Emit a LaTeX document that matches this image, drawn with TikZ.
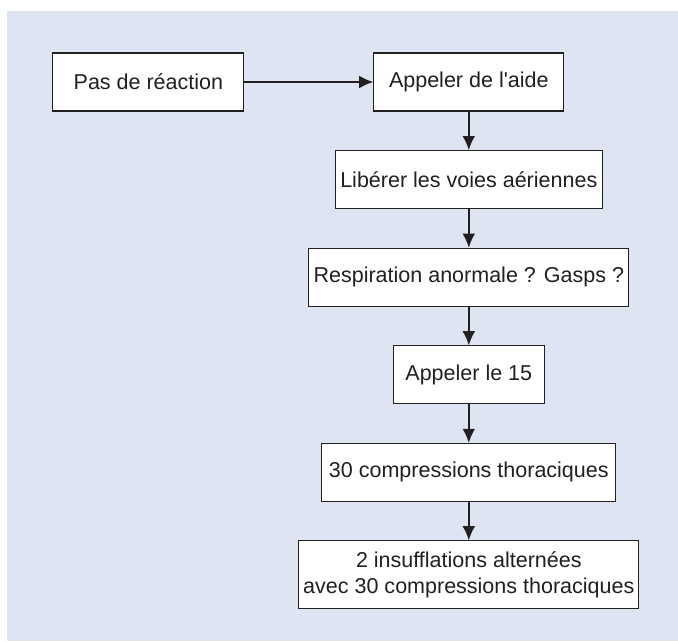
\documentclass[tikz,border=0pt]{standalone}
\usepackage{fontspec}
\setmainfont{Liberation Sans}
\usetikzlibrary{arrows.meta}
\definecolor{fond}{RGB}{222,228,242}
\definecolor{trait}{RGB}{35,31,32}
\tikzset{
	etape/.style={draw=trait, line width=0.75pt, fill=white, text=trait, align=center, inner sep=0pt, minimum height=1.45cm, font=\fontsize{15.3}{17.8}\selectfont},
	fleche/.style={draw=trait, line width=1pt, -{Latex[length=10pt,width=9pt]}}
}
\begin{document}
\begin{tikzpicture}
		\useasboundingbox (0,0) rectangle (16.95,-16.025);
		\fill[fond] (0.175,-0.275) rectangle (16.95,-16.025);
		\node[etape, minimum width=4.775cm] (reaction) at (3.71,-2.05) {Pas de réaction};
		\node[etape, minimum width=4.75cm] (aide) at (11.72,-2.05) {Appeler de l\textquotesingle aide};
		\node[etape, minimum width=6.675cm] (voies) at (11.72,-4.49) {Libérer les voies aériennes};
		\node[etape, minimum width=8cm] (respi) at (11.72,-6.93) {Respiration anormale ? Gasps ?};
		\node[etape, minimum width=3.775cm] (quinze) at (11.72,-9.37) {Appeler le 15};
		\node[etape, minimum width=7.35cm] (compr) at (11.72,-11.81) {30 compressions thoraciques};
		\node[etape, minimum width=8.5cm, minimum height=1.7cm] (insuff) at (11.72,-14.37) {2 insufflations alternées\\avec 30 compressions thoraciques};
		\draw[fleche] (reaction) -- (aide);
		\foreach \a/\b in {aide/voies, voies/respi, respi/quinze, quinze/compr, compr/insuff}{
				\draw[fleche] (\a) -- (\b);
			}
	\end{tikzpicture}
\end{document}
